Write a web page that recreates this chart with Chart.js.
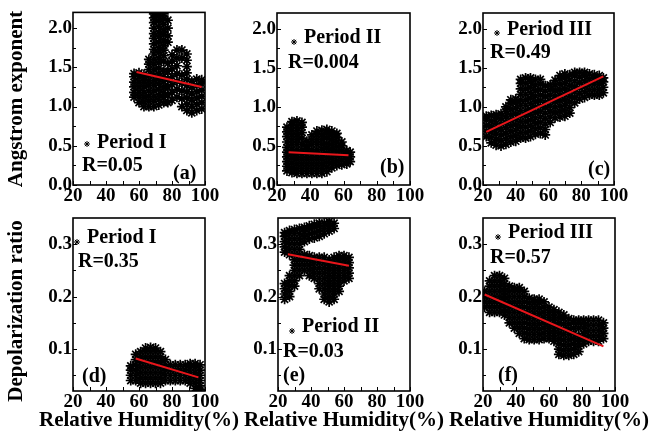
<!DOCTYPE html>
<html><head><meta charset="utf-8">
<script src="https://cdn.jsdelivr.net/npm/chart.js@4"></script>
<style>
html,body{margin:0;padding:0;background:#fff;}
#wrap{position:relative;width:652px;height:433px;overflow:hidden;}
canvas{position:absolute;left:0;top:0;}
</style></head><body><div id="wrap">
<canvas id="c0" width="652" height="433"></canvas>
<canvas id="c1" width="652" height="433"></canvas>
<canvas id="c2" width="652" height="433"></canvas>
<canvas id="c3" width="652" height="433"></canvas>
<canvas id="c4" width="652" height="433"></canvas>
<canvas id="c5" width="652" height="433"></canvas>
</div>
<script>
// ---- tick labels ----
const xTicks = [20, 40, 60, 80, 100];
const xMinor = [30, 50, 70, 90];
const aeTicks = [0.0, 0.5, 1.0, 1.5, 2.0];
const aeMinor = [0.25, 0.75, 1.25, 1.75];
const drTicks = [0.1, 0.2, 0.3];
const drMinor = [0.05, 0.15, 0.25];

// ---- data: [RH, [values...]] columns ----
const angstromI = [
 [57,[1.12,1.18,1.25,1.31,1.38,1.42]],
 [60,[1.05,1.12,1.18,1.25,1.31,1.38,1.43]],
 [63,[1.0,1.06,1.12,1.18,1.25,1.31,1.37,1.41]],
 [66,[1.0,1.07,1.13,1.2,1.27,1.33,1.40,1.47,1.54,1.60]],
 [69,[1.0,1.07,1.13,1.2,1.27,1.33,1.40,1.47,1.54,1.6,1.67,1.73,1.8,1.87,1.93,2.0,2.07,2.13,2.18]],
 [72,[1.02,1.09,1.15,1.22,1.29,1.35,1.42,1.49,1.56,1.62,1.69,1.75,1.82,1.89,1.95,2.02,2.09,2.15,2.19]],
 [75,[1.05,1.12,1.18,1.25,1.32,1.38,1.45,1.58,1.65,1.72,1.78,1.85,1.92,1.98,2.05,2.12,2.18]],
 [77.5,[1.05,1.15,1.25,1.35,1.45,1.55,1.82,1.9,2.0,2.1]],
 [80,[1.08,1.18,1.28,1.38,1.48,1.58,1.66]],
 [83,[1.12,1.22,1.32,1.42,1.52,1.62,1.72]],
 [86,[1.0,1.1,1.2,1.3,1.4,1.62,1.72]],
 [89,[0.95,1.03,1.11,1.19,1.27,1.35,1.43,1.51,1.59,1.67]],
 [92,[0.92,1.0,1.08,1.16,1.24,1.32]],
 [95,[0.95,1.03,1.11,1.19,1.27,1.35]],
 [98,[0.97,1.05,1.13,1.21,1.29,1.34]]
];
const angstromII = [
 [26,[0.18,0.24,0.3,0.36,0.42,0.48,0.55,0.62,0.68,0.74]],
 [29,[0.16,0.22,0.28,0.34,0.4,0.46,0.52,0.58,0.64,0.7,0.76,0.81]],
 [32,[0.15,0.21,0.27,0.33,0.39,0.45,0.52,0.58,0.64,0.7,0.76,0.82]],
 [35,[0.15,0.21,0.27,0.33,0.39,0.45,0.52,0.6,0.67,0.74,0.8]],
 [38,[0.15,0.21,0.27,0.33,0.39,0.45,0.5,0.56]],
 [41,[0.15,0.21,0.27,0.33,0.39,0.45,0.52,0.58,0.64]],
 [44,[0.15,0.21,0.27,0.33,0.39,0.45,0.52,0.58,0.64,0.69]],
 [47,[0.15,0.21,0.27,0.33,0.39,0.46,0.52,0.58,0.64,0.7]],
 [50,[0.17,0.23,0.29,0.35,0.41,0.47,0.53,0.6,0.66,0.71]],
 [53,[0.22,0.28,0.34,0.4,0.46,0.52,0.58,0.64,0.69]],
 [56,[0.25,0.31,0.37,0.43,0.49,0.55,0.61,0.66]],
 [59,[0.26,0.32,0.38,0.44,0.5,0.55]],
 [62,[0.27,0.33,0.39,0.44]],
 [64,[0.3,0.36,0.42]]
];
const angstromIII = [
 [22,[0.62,0.69,0.76,0.83,0.88]],
 [25,[0.54,0.61,0.68,0.75,0.82,0.89]],
 [28,[0.51,0.58,0.65,0.72,0.79,0.86,0.9]],
 [31,[0.5,0.57,0.64,0.71,0.78,0.85,0.91]],
 [34,[0.52,0.59,0.66,0.73,0.8,0.87,0.94,1.0]],
 [37,[0.55,0.62,0.69,0.76,0.83,0.9,0.97,1.04,1.09]],
 [40,[0.56,0.63,0.7,0.77,0.84,0.91,0.98,1.05,1.1]],
 [43,[0.6,0.67,0.74,0.81,0.88,0.95,1.02,1.09,1.16,1.23,1.3,1.35]],
 [46,[0.6,0.67,0.74,0.81,0.88,0.95,1.02,1.09,1.16,1.23,1.3,1.37]],
 [49,[0.62,0.69,0.76,0.83,0.9,0.97,1.04,1.11,1.18,1.25,1.32,1.37]],
 [52,[0.65,0.72,0.79,0.86,0.93,1.0,1.07,1.14,1.21,1.28,1.35]],
 [55,[0.66,0.73,0.8,0.87,0.94,1.01,1.08,1.15,1.22,1.29,1.35]],
 [58,[0.64,0.71,0.78,0.85,0.92,0.99,1.06,1.13,1.2,1.27]],
 [61,[0.8,0.87,0.94,1.01,1.08,1.15,1.22,1.28]],
 [64,[0.86,0.93,1.0,1.07,1.14,1.21,1.28,1.34]],
 [67,[0.87,0.94,1.01,1.08,1.15,1.22,1.29,1.36,1.4]],
 [70,[0.88,0.95,1.02,1.09,1.16,1.23,1.3,1.37,1.42]],
 [73,[0.92,0.99,1.06,1.13,1.2,1.27,1.34,1.41]],
 [76,[1.05,1.12,1.19,1.26,1.33,1.4,1.44]],
 [79,[1.1,1.17,1.24,1.31,1.38,1.44]],
 [82,[1.12,1.19,1.26,1.33,1.4,1.44]],
 [85,[1.15,1.22,1.29,1.36,1.42]],
 [88,[1.15,1.22,1.29,1.36,1.41]],
 [91,[1.15,1.22,1.29,1.36,1.4]],
 [93.5,[1.18,1.25,1.32,1.37]]
];
const depolI = [
 [55,[0.04,0.05,0.06,0.068]],
 [58,[0.04,0.05,0.06,0.07,0.08,0.09]],
 [61,[0.035,0.045,0.055,0.065,0.075,0.085,0.095]],
 [64,[0.035,0.045,0.055,0.065,0.075,0.085,0.095,0.102]],
 [67,[0.035,0.045,0.055,0.065,0.075,0.085,0.095,0.103]],
 [70,[0.035,0.045,0.055,0.065,0.075,0.085,0.095,0.102]],
 [73,[0.035,0.045,0.055,0.065,0.075,0.085,0.095]],
 [76,[0.04,0.05,0.06,0.07,0.08]],
 [79,[0.04,0.05,0.06,0.07]],
 [82,[0.04,0.05,0.06,0.07]],
 [85,[0.04,0.05,0.06,0.07]],
 [88,[0.04,0.05,0.06,0.07]],
 [91,[0.035,0.045,0.055,0.065,0.072]],
 [94,[0.025,0.035,0.045,0.055,0.065,0.072]],
 [97,[0.022,0.03,0.04,0.05,0.06,0.07]]
];
const depolII = [
 [24,[0.195,0.205,0.215,0.225,0.285,0.295,0.305,0.315,0.322]],
 [27,[0.2,0.21,0.22,0.23,0.24,0.28,0.29,0.3,0.31,0.32,0.326]],
 [30,[0.22,0.23,0.24,0.25,0.26,0.27,0.28,0.29,0.3,0.31,0.32,0.328]],
 [33,[0.24,0.25,0.26,0.27,0.28,0.29,0.3,0.31,0.32,0.33]],
 [36,[0.25,0.26,0.27,0.28,0.305,0.315,0.325,0.332]],
 [39,[0.24,0.25,0.26,0.27,0.278,0.31,0.32,0.33,0.335]],
 [42,[0.235,0.245,0.255,0.265,0.275,0.312,0.322,0.332,0.338]],
 [45,[0.215,0.225,0.235,0.245,0.255,0.265,0.275,0.315,0.325,0.335,0.34]],
 [48,[0.195,0.205,0.215,0.225,0.235,0.245,0.255,0.265,0.275,0.32,0.33,0.34]],
 [51,[0.19,0.2,0.21,0.22,0.23,0.24,0.25,0.26,0.27,0.325,0.335,0.343]],
 [54,[0.195,0.205,0.215,0.225,0.235,0.245,0.255,0.265,0.275,0.33,0.34]],
 [57,[0.21,0.22,0.23,0.24,0.25,0.26,0.27,0.278]],
 [60,[0.23,0.24,0.25,0.26,0.27,0.278]],
 [63,[0.235,0.245,0.255,0.265,0.275]]
];
const depolIII = [
 [21,[0.18,0.19,0.2,0.21]],
 [24,[0.17,0.18,0.19,0.2,0.21,0.22,0.23]],
 [27,[0.17,0.18,0.19,0.2,0.21,0.22,0.23,0.24]],
 [30,[0.17,0.18,0.19,0.2,0.21,0.22,0.23,0.24]],
 [33,[0.165,0.175,0.185,0.195,0.205,0.215,0.225,0.235]],
 [36,[0.15,0.16,0.17,0.18,0.19,0.2,0.21,0.22]],
 [39,[0.14,0.15,0.16,0.17,0.18,0.19,0.2,0.21,0.217]],
 [42,[0.13,0.14,0.15,0.16,0.17,0.18,0.19,0.2,0.21,0.217]],
 [45,[0.12,0.13,0.14,0.15,0.16,0.17,0.18,0.19,0.2,0.21]],
 [48,[0.118,0.128,0.138,0.148,0.158,0.168,0.178,0.188,0.197]],
 [51,[0.118,0.128,0.138,0.148,0.158,0.168,0.178,0.188,0.195]],
 [54,[0.118,0.128,0.138,0.148,0.158,0.168,0.178,0.188,0.195]],
 [57,[0.12,0.13,0.14,0.15,0.16,0.17,0.18,0.19]],
 [60,[0.12,0.13,0.14,0.15,0.16,0.17,0.18]],
 [63,[0.115,0.125,0.135,0.145,0.155,0.165,0.175]],
 [66,[0.09,0.1,0.11,0.12,0.13,0.14,0.15,0.16,0.17]],
 [69,[0.088,0.098,0.108,0.118,0.128,0.138,0.148,0.158,0.165]],
 [72,[0.088,0.098,0.108,0.118,0.128,0.138,0.148,0.158]],
 [75,[0.09,0.1,0.11,0.12,0.13,0.14,0.15,0.155]],
 [78,[0.095,0.105,0.115,0.125,0.14,0.15,0.155]],
 [81,[0.11,0.12,0.13,0.14,0.15,0.155]],
 [84,[0.115,0.125,0.135,0.145,0.155]],
 [87,[0.115,0.125,0.135,0.145,0.155]],
 [90,[0.115,0.125,0.135,0.145,0.155]],
 [93,[0.12,0.13,0.14,0.15]]
];
// ---- linear fits (endpoints) ----
const fitA = [[58.5,1.44],[98,1.25]];
const fitB = [[27,0.42],[63,0.38]];
const fitC = [[22,0.68],[93.5,1.39]];
const fitD = [[58,0.082],[96,0.046]];
const fitE = [[26,0.281],[63,0.259]];
const fitF = [[21,0.204],[93,0.105]];

const periods = ['Period I','Period II','Period III','Period I','Period II','Period III'];
const rLabels = ['R=0.05','R=0.004','R=0.49','R=0.35','R=0.03','R=0.57'];
const tags = ['(a)','(b)','(c)','(d)','(e)','(f)'];

const FONT = '"Liberation Serif","Times New Roman",serif';

const panels = [
 {L:73,R:205,T:12,B:185, ymin:0,ymax:2.2, yt:aeTicks, ym:aeMinor, cols:angstromI, fit:fitA,
  star:[87,144], per:[97,143], r:[82,166], tag:[173,174], ytitle:'Angstrom exponent', ytc:[17,99]},
 {L:277,R:410,T:13,B:185, ymin:0,ymax:2.2, yt:aeTicks, ym:aeMinor, cols:angstromII, fit:fitB,
  star:[294,42], per:[304,38], r:[288,63], tag:[380,168]},
 {L:483,R:614,T:13,B:185, ymin:0,ymax:2.2, yt:aeTicks, ym:aeMinor, cols:angstromIII, fit:fitC,
  star:[497,33], per:[507,30], r:[490,53], tag:[588,170]},
 {L:73,R:205,T:218,B:391, ymin:0.02,ymax:0.35, yt:drTicks, ym:drMinor, cols:depolI, fit:fitD,
  star:[77,242], per:[87,238], r:[78,262], tag:[82,377], ytitle:'Depolarization ratio', ytc:[17,311], xtitle:true},
 {L:278,R:410,T:218,B:391, ymin:0.02,ymax:0.35, yt:drTicks, ym:drMinor, cols:depolII, fit:fitE,
  star:[292,331], per:[302,327], r:[283,352], tag:[283,376], xtitle:true},
 {L:483,R:615,T:218,B:391, ymin:0.02,ymax:0.35, yt:drTicks, ym:drMinor, cols:depolIII, fit:fitF,
  star:[498,237], per:[508,233], r:[490,258], tag:[498,376], xtitle:true}
];

const YW = 45, XH = 30;

function drawStar(ctx, x, y, r) {
  ctx.beginPath();
  for (let k = 0; k < 4; k++) {
    const a = k * Math.PI / 4;
    ctx.moveTo(x - r*Math.cos(a), y - r*Math.sin(a));
    ctx.lineTo(x + r*Math.cos(a), y + r*Math.sin(a));
  }
  ctx.stroke();
}

panels.forEach((p, i) => {
  const pts = p.cols.flatMap(c => c[1].map(v => ({x: c[0], y: v})));
  const fitPts = p.fit.map(f => ({x: f[0], y: f[1]}));
  const deco = {
    id: 'deco' + i,
    afterDatasetsDraw(chart) {
      const ctx = chart.ctx, a = chart.chartArea;
      const xs = chart.scales.x, ys = chart.scales.y;
      ctx.save();
      ctx.strokeStyle = '#000';
      ctx.lineWidth = 1;
      ctx.beginPath();
      xTicks.concat(xMinor).forEach(v => {
        const px = Math.round(xs.getPixelForValue(v)) + 0.5;
        ctx.moveTo(px, a.bottom); ctx.lineTo(px, a.bottom - 4);
      });
      p.yt.forEach(v => {
        const py = Math.round(ys.getPixelForValue(v)) + 0.5;
        ctx.moveTo(a.left, py); ctx.lineTo(a.left + 4, py);
      });
      p.ym.forEach(v => {
        const py = Math.round(ys.getPixelForValue(v)) + 0.5;
        ctx.moveTo(a.left, py); ctx.lineTo(a.left + 3, py);
      });
      ctx.stroke();
      ctx.lineWidth = 1.6;
      ctx.strokeRect(a.left, a.top, a.right - a.left, a.bottom - a.top);
      // legend / annotations
      ctx.lineWidth = 1;
      drawStar(ctx, p.star[0], p.star[1], 3);
      ctx.fillStyle = '#000';
      ctx.font = 'bold 20px ' + FONT;
      ctx.textAlign = 'left';
      ctx.textBaseline = 'middle';
      ctx.fillText(periods[i], p.per[0], p.per[1]);
      ctx.fillText(rLabels[i], p.r[0], p.r[1]);
      ctx.fillText(tags[i], p.tag[0], p.tag[1]);
      ctx.textAlign = 'center';
      ctx.font = 'bold 21px ' + FONT;
      if (p.xtitle) ctx.fillText('Relative Humidity(%)', (a.left + a.right) / 2, 421);
      if (p.ytitle) {
        ctx.translate(p.ytc[0], p.ytc[1]);
        ctx.rotate(-Math.PI / 2);
        ctx.fillText(p.ytitle, 0, 0);
      }
      ctx.restore();
    }
  };
  new Chart(document.getElementById('c' + i), {
    type: 'scatter',
    data: {
      datasets: [
        {data: fitPts, showLine: true, borderColor: '#e8161b', borderWidth: 2, pointRadius: 0, clip: 0},
        {data: pts, pointStyle: 'star', pointRadius: 5, borderColor: '#000', backgroundColor: '#000', pointBorderWidth: 1.7, borderWidth: 1.7, clip: 0}
      ]
    },
    options: {
      responsive: false, animation: false, events: [],
      layout: {padding: {left: p.L - YW, right: 652 - p.R, top: p.T, bottom: 433 - p.B - XH}},
      plugins: {legend: {display: false}, tooltip: {enabled: false}},
      scales: {
        x: {
          type: 'linear', min: 20, max: 100,
          afterFit(s) { s.height = XH; },
          afterBuildTicks(s) { s.ticks = xTicks.map(v => ({value: v})); },
          grid: {display: false, drawTicks: false}, border: {display: false},
          ticks: {padding: 0, autoSkip: false, maxRotation: 0, color: '#000',
                  font: {family: FONT, size: 19, weight: 'bold'}, callback: v => String(v)}
        },
        y: {
          type: 'linear', min: p.ymin, max: p.ymax,
          afterFit(s) { s.width = YW; },
          afterBuildTicks(s) { s.ticks = p.yt.map(v => ({value: v})); },
          grid: {display: false, drawTicks: false}, border: {display: false},
          ticks: {padding: 1, autoSkip: false, color: '#000',
                  font: {family: FONT, size: 19, weight: 'bold'}, callback: v => Number(v).toFixed(1)}
        }
      }
    },
    plugins: [deco]
  });
});
</script>
</body></html>
